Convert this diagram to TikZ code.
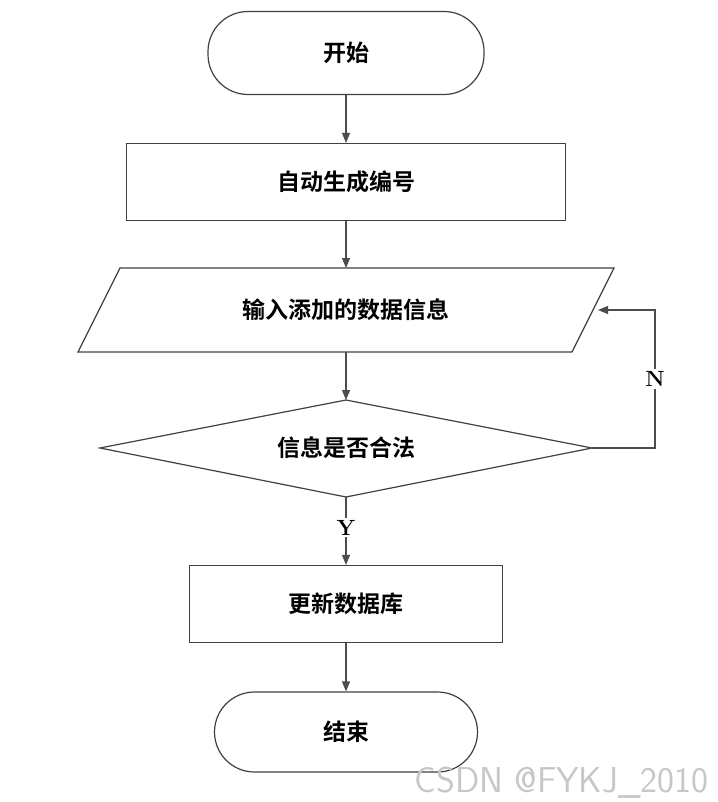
\documentclass[tikz,border=0pt]{standalone}
\usepackage{fontspec}
\newfontfamily\cjk{Noto Sans CJK SC Bold}
\usetikzlibrary{arrows.meta,calc,positioning}

\tikzset{
  box/.style={draw=black!75, line width=1.2pt, minimum height=77pt, font=\cjk\fontsize{23}{25}\selectfont},
  term/.style={box, rounded corners=40pt},
  flow/.style={draw=black!70, line width=1.2pt, -{Triangle[length=10pt,width=8pt]}},
  lbl/.style={font=\bfseries\fontsize{22}{24}\selectfont, fill=white, inner sep=2pt}
}

\begin{document}
\begin{tikzpicture}[x=1pt,y=-1pt]
\useasboundingbox (0,0) rectangle (717,802);

% nodes
\node[term, minimum width=276pt, minimum height=83pt] (start) at (346,53) {开始};
\node[box, minimum width=439pt] (auto) at (346,182) {自动生成编号};
\node[font=\cjk\fontsize{23}{25}\selectfont] (input) at (346,310) {输入添加的数据信息};
\coordinate (inR) at (598,310);
\node[font=\cjk\fontsize{23}{25}\selectfont] (check) at (346,448) {信息是否合法};
\node[box, minimum width=313pt] (update) at (346,604) {更新数据库};
\node[term, minimum width=263pt, minimum height=80pt] (stop) at (346,732) {结束};

% parallelogram and diamond
\draw[draw=black!75, line width=1.2pt] (120,268) -- (614,268) -- (572,352) -- (78,352) -- cycle;
\coordinate (inT) at (346,268);
\coordinate (inB) at (346,352);
\draw[draw=black!75, line width=1.2pt] (346,400) coordinate (chT) -- (592,448) coordinate (chR)
  -- (346,497) coordinate (chB) -- (100,448) -- cycle;

% connectors
\draw[flow] (start) -- (auto);
\draw[flow] (auto) -- (inT);
\draw[flow] (inB) -- (chT);
\draw[flow] (chB) -- (update) node[lbl, pos=0.45] {Y};
\draw[flow] (chR) -- (655,448) -- (655,310) node[lbl, pos=0.5] {N} -- (inR);
\draw[flow] (update) -- (stop);

\node[text=black!22, font=\fontsize{36}{38}\selectfont\sffamily, anchor=south east] (mark) at (712,802) {CSDN @FYKJ\_2010};
\end{tikzpicture}
\end{document}
